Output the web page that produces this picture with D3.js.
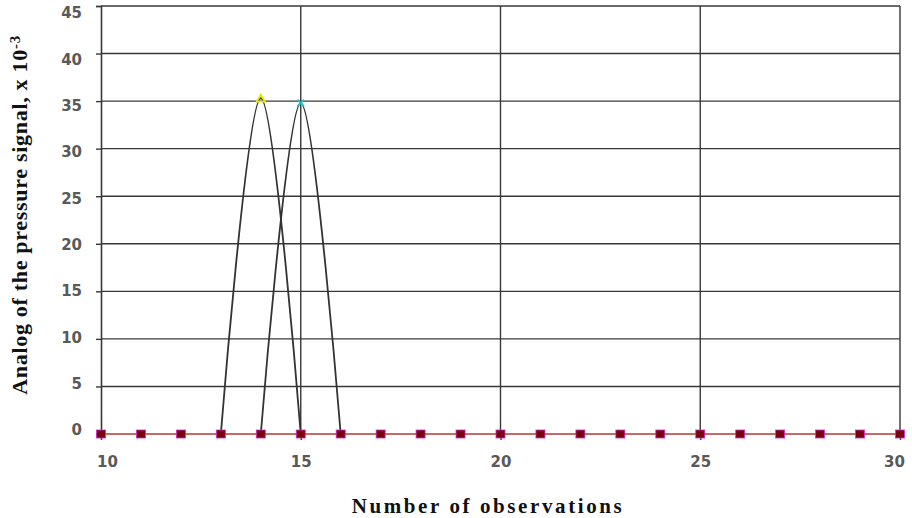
<!DOCTYPE html>
<html><head><meta charset="utf-8">
<script src="https://cdn.jsdelivr.net/npm/d3@7"></script>
<style>body{margin:0;background:#fff}svg{display:block}</style>
</head><body>
<svg id="c" width="912" height="518"></svg>
<script>
// Data
const observations = [10,11,12,13,14,15,16,17,18,19,20,21,22,23,24,25,26,27,28,29,30];
const baseSeries = [0,0,0,0,0,0,0,0,0,0,0,0,0,0,0,0,0,0,0,0,0];
const peakAx = [13,14,15];
const peakAy = [0,35.3,0];
const peakBx = [14,15,16];
const peakBy = [0,34.8,0];
const yTicks = [0,5,10,15,20,25,30,35,40,45];
const xTicks = [10,15,20,25,30];

const svg = d3.select("#c");
const L=101, R=900, T=6, B=434;
const x = d3.scaleLinear().domain([10,30]).range([L,R]);
const y = d3.scaleLinear().domain([0,45]).range([B,T]);
// label placement (labels in the reference sit on a slightly compressed scale)
const yLab = d3.scaleLinear().domain([0,45]).range([430,13]);

const gridColor = "#383838";
// grid
const g = svg.append("g");
g.selectAll(".hg").data(yTicks.filter(d=>d>0)).join("line")
  .attr("x1",L).attr("x2",R).attr("y1",d=>y(d)).attr("y2",d=>y(d))
  .attr("stroke",gridColor).attr("stroke-width",1.4);
g.selectAll(".vg").data(xTicks.filter(d=>d>10)).join("line")
  .attr("x1",d=>x(d)).attr("x2",d=>x(d)).attr("y1",T).attr("y2",B)
  .attr("stroke",gridColor).attr("stroke-width",1.4);

// axes
const yAxis = d3.axisLeft(y).tickValues(yTicks).tickSize(5).tickPadding(14);
const ya = svg.append("g").attr("transform",`translate(${L},0)`).call(yAxis);
ya.select(".domain").attr("stroke",gridColor).attr("stroke-width",1.6);
ya.selectAll(".tick line").attr("stroke",gridColor).attr("stroke-width",1.4);
ya.selectAll(".tick text")
  .attr("transform",d=>`translate(0,${yLab(d)-y(d)})`)
  .style("font-family","DejaVu Sans").style("font-weight","bold").style("font-size","15px").attr("fill","#595959");

const xAxis = d3.axisBottom(x).tickValues(xTicks).tickSize(6).tickPadding(16);
const xa = svg.append("g").attr("transform",`translate(0,${B})`).call(xAxis);
xa.select(".domain").remove();
xa.selectAll(".tick line").attr("stroke",gridColor).attr("stroke-width",1.4);
xa.selectAll(".tick text").attr("dx",d=>d===10?6:(d===30?-6:0))
  .style("font-family","DejaVu Sans").style("font-weight","bold").style("font-size","15px").attr("fill","#595959");

// peak curves
const line = d3.line().x(d=>x(d[0])).y(d=>y(d[1])).curve(d3.curveCardinal.tension(0));
const pa = peakAx.map((v,i)=>[v,peakAy[i]]);
const pb = peakBx.map((v,i)=>[v,peakBy[i]]);
[pa,pb].forEach(p=>{
  svg.append("path").attr("d",line(p)).attr("fill","none").attr("stroke","#333").attr("stroke-width",1.8);
});
// peak markers
const triangle = d3.symbol().type(d3.symbolTriangle).size(30);
svg.append("path").attr("d",triangle()).attr("transform",`translate(${x(pa[1][0])},${y(pa[1][1])+1})`)
  .attr("fill","none").attr("stroke","#e8e800").attr("stroke-width",1.8);
const cross = d3.symbol().type(d3.symbolX).size(30);
svg.append("path").attr("d",cross()).attr("transform",`translate(${x(pb[1][0])},${y(pb[1][1])})`)
  .attr("fill","none").attr("stroke","#20c0c8").attr("stroke-width",1.8);

// base series
const base = observations.map((v,i)=>[v,baseSeries[i]]);
svg.append("path").attr("d",d3.line().x(d=>x(d[0])).y(d=>y(d[1]))(base))
  .attr("fill","none").attr("stroke","#c46a6a").attr("stroke-width",2);
svg.selectAll(".m").data(base).join("rect")
  .attr("x",d=>x(d[0])-4.5).attr("y",d=>y(d[1])-4).attr("width",9).attr("height",8)
  .attr("fill","#7a0010").attr("stroke","#d030d0").attr("stroke-width",0.8);

// titles
svg.append("text").attr("x",488).attr("y",513).attr("text-anchor","middle")
  .style("font-family","Liberation Serif").style("font-weight","bold").style("font-size","21px")
  .attr("letter-spacing","2.6px").attr("fill","#111").text("Number of observations");
const yt = svg.append("text").attr("transform","translate(27,215) rotate(-90)").attr("text-anchor","middle")
  .style("font-family","Liberation Serif").style("font-weight","bold").style("font-size","22px")
  .attr("letter-spacing","0.7px").attr("fill","#111");
yt.append("tspan").text("Analog of the pressure signal, x 10");
yt.append("tspan").attr("dy","-0.45em").style("font-size","15px").text("-3");
</script>
</body></html>
